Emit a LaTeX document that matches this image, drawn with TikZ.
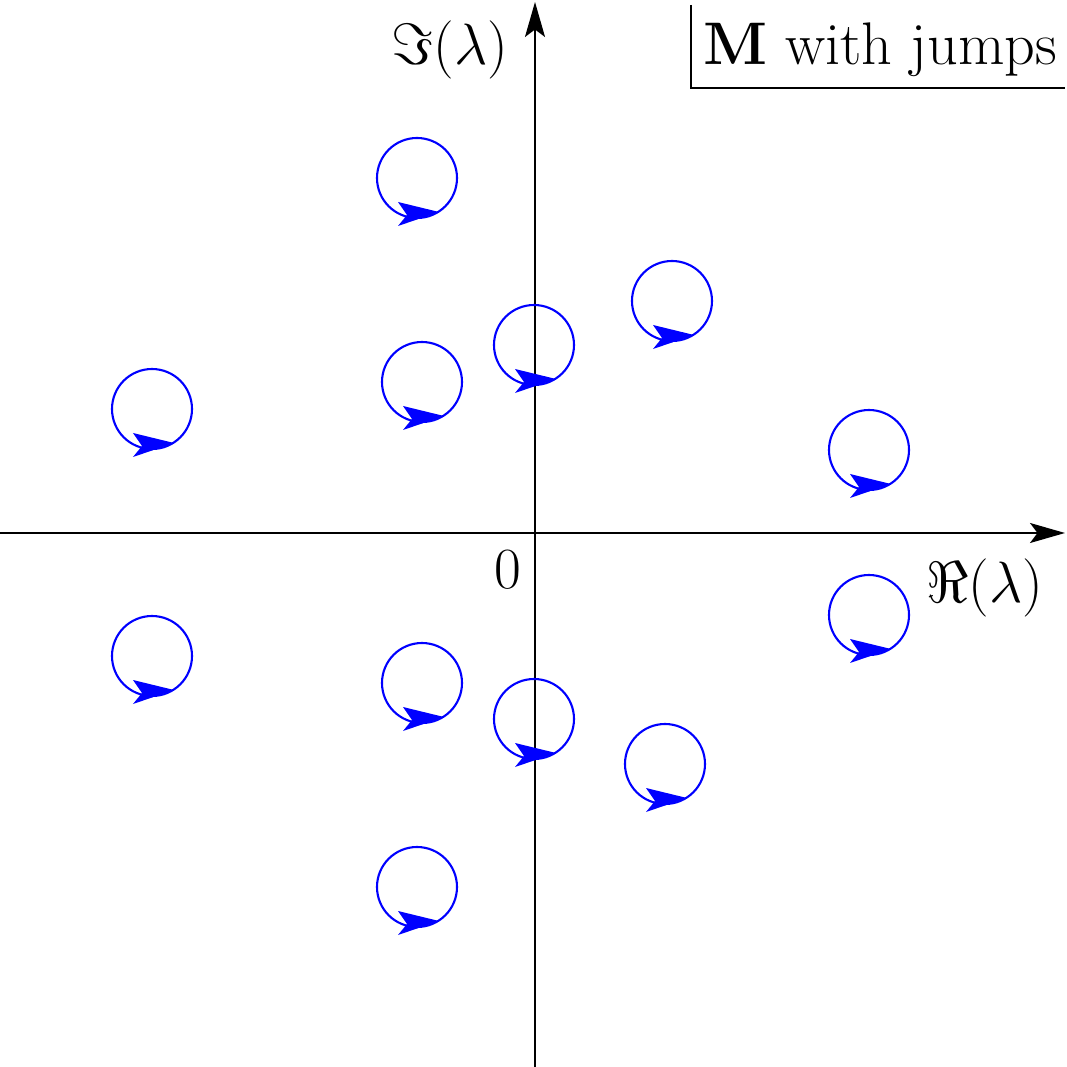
\documentclass[tikz,border=0pt]{standalone}
\usetikzlibrary{arrows.meta}
\tikzset{
    loopcirc/.style={blue, line width=1.2pt},
    loophead/.style={fill=blue},
    axisline/.style={line width=1.2pt, -{Stealth[length=0.7cm, width=0.4cm, inset=0.15cm]}},
    biglabel/.style={font=\huge}
}
\newcommand{\bigtxt}[1]{\scalebox{1.6}{#1}}
\begin{document}
\begin{tikzpicture}[x=0.02cm, y=0.02cm]
            \useasboundingbox (-535, -534) rectangle (532, 533);
            \coordinate (O) at (0, 0);
            \coordinate (W) at (-535, 0);
            \coordinate (E) at (530, 0);
            \coordinate (S) at (0, -534);
            \coordinate (N) at (0, 531);

            \draw[axisline] (W) -- (E);
            \draw[axisline] (S) -- (N);

            \node[biglabel] (zero) at (-27, -37) {\bigtxt{$0$}};
            \node[biglabel] (relabel) at (450, -55) {\bigtxt{$\Re(\lambda)$}};
            \node[biglabel] (imlabel) at (-85, 483) {\bigtxt{$\Im(\lambda)$}};

            \node[biglabel] (title) at (345, 483) {\scalebox{1.65}{$\mathbf{M}$ with jumps}};
            \draw[line width=0.6pt] (156, 528) -- (156, 445) -- (530, 445);

            \foreach \cx/\cy in {-118/355, 137/232, -1/188, -113/151, -383/124, 334/83,
                    -383/-123, -113/-150, -1/-186, 130/-231, 334/-82, -118/-354} {
                \draw[loopcirc] (\cx, \cy) circle[radius=40];
                \fill[loophead] (\cx+22, \cy-34) -- (\cx-19, \cy-24) -- (\cx-10, \cy-37)
                    -- (\cx-19, \cy-48) -- cycle;
            }
        \end{tikzpicture}
\end{document}
